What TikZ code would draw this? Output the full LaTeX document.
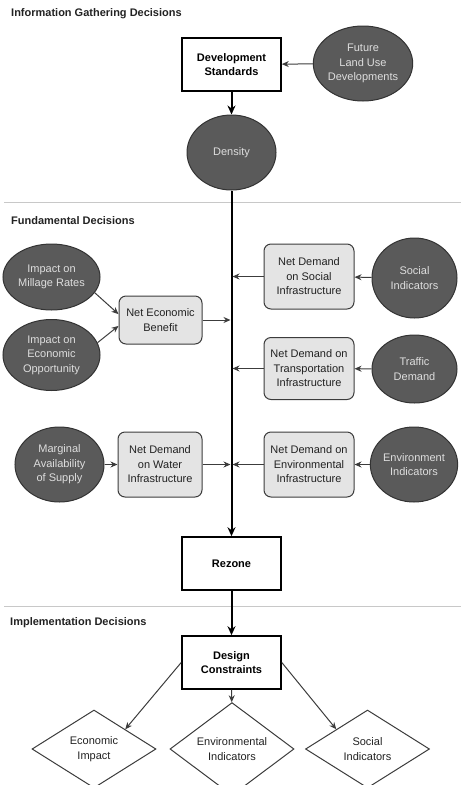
\documentclass[tikz,border=0pt]{standalone}
\usepackage{fontspec}
\setmainfont{Liberation Sans}
\usetikzlibrary{shapes.geometric,arrows.meta}

\definecolor{ellfill}{HTML}{5A5A5A}
\definecolor{ellline}{HTML}{333333}
\definecolor{elltext}{HTML}{DEDEDE}
\definecolor{boxfill}{HTML}{E4E4E4}
\definecolor{boxline}{HTML}{3C3C3C}
\definecolor{inktext}{HTML}{222222}
\definecolor{rulegray}{HTML}{C8C8C8}

\tikzset{
  txt/.style={font=\fontsize{11}{14.5}\selectfont, align=center},
  ell/.style={txt, ellipse, draw=ellline, fill=ellfill, text=elltext,
              line width=1pt, inner sep=0pt},
  rbox/.style={txt, rectangle, rounded corners=7pt, draw=boxline, fill=boxfill,
               text=inktext, line width=1pt, inner sep=0pt},
  sbox/.style={txt, rectangle, draw=black, fill=white, text=black,
               font=\fontsize{11}{14.5}\selectfont\bfseries,
               line width=1.6pt, inner sep=0pt, minimum width=99pt, minimum height=53pt},
  dia/.style={txt, diamond, draw=boxline, fill=white, text=inktext,
              line width=1pt, inner sep=0pt, minimum width=124pt, minimum height=78pt},
  thinarr/.style={draw=boxline, line width=1pt, -{Stealth[length=7pt,width=6pt]}},
  thickarr/.style={draw=black, line width=2pt, -{Stealth[length=9pt,width=8pt]}},
  section/.style={anchor=west, inner sep=0pt, text=inktext,
                  font=\fontsize{11}{13}\selectfont\bfseries},
  rule/.style={draw=rulegray, line width=1pt}
}

\begin{document}
\begin{tikzpicture}[x=1pt, y=-1pt]
  \clip (0,0) rectangle (461,785);
  \useasboundingbox (0,0) rectangle (461,785);

  % section rules
  \coordinate (r1a) at (4,202);   \coordinate (r1b) at (461,202);
  \coordinate (r2a) at (4,606);   \coordinate (r2b) at (461,606);
  \draw[rule] (r1a) -- (r1b);
  \draw[rule] (r2a) -- (r2b);

  % section titles
  \node[section] (t1) at (11,14)  {Information Gathering Decisions};
  \node[section] (t2) at (11,221) {Fundamental Decisions};
  \node[section] (t3) at (10,623) {Implementation Decisions};

  % information gathering
  \node[sbox] (dev) at (231.5,64.5) {Development\\Standards};
  \node[ell, minimum width=94pt, minimum height=75pt] (flu) at (363,63.5)
        {Future\\Land Use\\Developments};
  \node[ell, minimum width=89pt, minimum height=75pt] (dens) at (231.5,152.5) {Density};

  % fundamental decisions
  \node[ell, minimum width=97pt, minimum height=66pt] (mill) at (51.5,277) {Impact on\\Millage Rates};
  \node[ell, minimum width=97pt, minimum height=71pt] (opp) at (51.5,355) {Impact on\\Economic\\Opportunity};
  \node[rbox, minimum width=83pt, minimum height=48pt] (neb) at (160.5,320) {Net Economic\\Benefit};

  \node[rbox, minimum width=90pt, minimum height=65pt] (ndsi) at (309,276.5) {Net Demand\\on Social\\Infrastructure};
  \node[ell, minimum width=85pt, minimum height=80pt] (soc) at (414.5,278) {Social\\Indicators};

  \node[rbox, minimum width=90pt, minimum height=62pt] (ndti) at (309,368.5) {Net Demand on\\Transportation\\Infrastructure};
  \node[ell, minimum width=85pt, minimum height=68pt] (traf) at (414.5,369) {Traffic\\Demand};

  \node[ell, minimum width=89pt, minimum height=75pt] (marg) at (59.5,464.5) {Marginal\\Availability\\of Supply};
  \node[rbox, minimum width=84pt, minimum height=65pt] (ndwi) at (160,464.5) {Net Demand\\on Water\\Infrastructure};
  \node[rbox, minimum width=90pt, minimum height=65pt] (ndei) at (309,464.5) {Net Demand on\\Environmental\\Infrastructure};
  \node[ell, minimum width=86pt, minimum height=75pt] (envi) at (414,464.5) {Environment\\Indicators};

  \node[sbox] (rez) at (231.5,563.5) {Rezone};

  % implementation decisions
  \node[sbox] (dc) at (231.5,662.5) {Design\\Constraints};
  \node[dia] (econ) at (94,749) {Economic\\Impact};
  \node[dia] (envd) at (232,749) {Environmental\\Indicators};
  \node[dia] (socd) at (367.5,749) {Social\\Indicators};

  % main flow
  \draw[thinarr] (flu) -- (dev);
  \draw[thickarr] (dev) -- (dens);
  \draw[thickarr] (dens) -- (rez);
  \draw[thickarr] (rez) -- (dc);

  % feeds into the main line
  \draw[thinarr] (mill.-20) -- (neb.172);
  \draw[thinarr] (opp.15) -- (neb.188);
  \draw[thinarr, shorten >=1pt] (neb) -- (neb -| dens);
  \draw[thinarr] (soc) -- (ndsi);
  \draw[thinarr, shorten >=1pt] (ndsi) -- (ndsi -| dens);
  \draw[thinarr] (traf) -- (ndti);
  \draw[thinarr, shorten >=1pt] (ndti) -- (ndti -| dens);
  \draw[thinarr] (marg) -- (ndwi);
  \draw[thinarr, shorten >=1pt] (ndwi) -- (ndwi -| dens);
  \draw[thinarr] (envi) -- (ndei);
  \draw[thinarr, shorten >=1pt] (ndei) -- (ndei -| dens);

  % design constraints outcomes
  \draw[thinarr] (dc.west) -- (econ.north east);
  \draw[thinarr] (dc) -- (envd);
  \draw[thinarr] (dc.east) -- (socd.north west);
\end{tikzpicture}
\end{document}
